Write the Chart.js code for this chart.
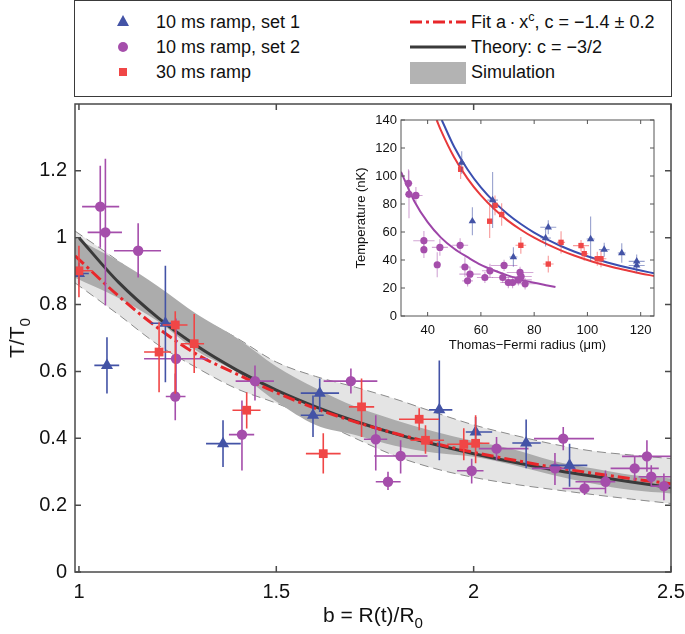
<!DOCTYPE html>
<html>
<head>
<meta charset="utf-8">
<script src="https://cdn.jsdelivr.net/npm/chart.js@4.4.1/dist/chart.umd.min.js"></script>
<style>
  html, body { margin:0; padding:0; background:#fff; }
  body { width:685px; height:634px; overflow:hidden; position:relative;
         font-family:"Liberation Sans", Arial, Helvetica, sans-serif; color:#111; }
  canvas { position:absolute; }
  #main { left:0; top:0; }
  #inset { left:340px; top:106px; }
  .legbox { position:absolute; left:74px; top:0px; width:598px; height:97px;
            border:1.5px solid #3a3a3a; box-sizing:border-box; background:#fff; }
  .lt { position:absolute; font-size:18px; line-height:22px; white-space:nowrap; }
  .lt sup { font-size:0.7em; vertical-align:0.55em; line-height:0; }
  .sw { position:absolute; }
  .title { position:absolute; font-size:21px; line-height:24px; white-space:nowrap; }
  .title sub { font-size:0.72em; vertical-align:-0.4em; line-height:0; }
</style>
</head>
<body>
<canvas id="main" width="685" height="634"></canvas>
<canvas id="inset" width="325" height="250"></canvas>

<div class="legbox"></div>
<svg class="sw" style="left:116px;top:14px" width="14" height="14"><polygon points="7,1 13,12 1,12" fill="#4353a6"/></svg>
<svg class="sw" style="left:117px;top:41px" width="12" height="12"><circle cx="6" cy="6" r="5" fill="#a54eab"/></svg>
<svg class="sw" style="left:118px;top:67px" width="10" height="10"><rect x="1" y="1" width="8" height="8" fill="#f04646"/></svg>
<div class="lt" style="left:156px;top:11px">10 ms ramp, set 1</div>
<div class="lt" style="left:156px;top:36px">10 ms ramp, set 2</div>
<div class="lt" style="left:156px;top:61px">30 ms ramp</div>
<svg class="sw" style="left:410px;top:18px" width="56" height="8"><line x1="0" y1="4" x2="56" y2="4" stroke="#e8262a" stroke-width="3" stroke-dasharray="12,4,3,4"/></svg>
<svg class="sw" style="left:410px;top:43px" width="56" height="8"><line x1="0" y1="4" x2="56" y2="4" stroke="#3a3a3a" stroke-width="3"/></svg>
<svg class="sw" style="left:410px;top:62px" width="56" height="22"><rect x="0" y="0" width="56" height="22" fill="#b3b3b3"/></svg>
<div class="lt" style="left:471px;top:11px">Fit a&#8201;·&#8201;x<sup>c</sup>, c = −1.4 ± 0.2</div>
<div class="lt" style="left:471px;top:36px">Theory: c = −3/2</div>
<div class="lt" style="left:471px;top:61px">Simulation</div>

<div class="title" style="left:75px;width:596px;top:603px;text-align:center">b = R(t)/R<sub>0</sub></div>
<div class="title" style="left:17px;top:338px;transform:translate(-50%,-50%) rotate(-90deg)">T/T<sub>0</sub></div>

<script>
const FONT = '"Liberation Sans", Arial, Helvetica, sans-serif';

// ---------------- main chart data ----------------
const X_TICKS = [1, 1.5, 2, 2.5];
const X_TICK_LABELS = ['1', '1.5', '2', '2.5'];
const Y_TICKS = [0, 0.2, 0.4, 0.6, 0.8, 1, 1.2];
const Y_TICK_LABELS = ['0', '0.2', '0.4', '0.6', '0.8', '1', '1.2'];

// 10 ms ramp, set 1 (blue triangles)
const S1_X    = [1.0, 1.071, 1.219, 1.365, 1.593, 1.61, 1.913, 2.005, 2.133, 2.243];
const S1_Y    = [0.893, 0.618, 0.744, 0.384, 0.469, 0.535, 0.485, 0.419, 0.386, 0.319];
const S1_XLO  = [0.985, 1.039, 1.182, 1.322, 1.562, 1.562, 1.887, 1.98, 2.098, 2.195];
const S1_XHI  = [1.025, 1.102, 1.254, 1.41, 1.62, 1.659, 1.946, 2.047, 2.17, 2.288];
const S1_YLO  = [0.86, 0.534, 0.568, 0.314, 0.404, 0.479, 0.334, 0.374, 0.31, 0.255];
const S1_YHI  = [0.925, 0.702, 0.916, 0.454, 0.528, 0.579, 0.633, 0.464, 0.456, 0.384];

// 10 ms ramp, set 2 (purple circles)
const S2_X    = [1.054, 1.067, 1.150, 1.246, 1.244, 1.446, 1.413, 1.689, 1.752, 1.815, 1.783, 1.995, 2.058, 2.227, 2.206, 2.281, 2.334, 2.408, 2.439, 2.45, 2.482];
const S2_Y    = [1.093, 1.016, 0.961, 0.638, 0.525, 0.571, 0.411, 0.571, 0.397, 0.347, 0.270, 0.303, 0.369, 0.399, 0.31, 0.25, 0.27, 0.31, 0.346, 0.285, 0.257];
const S2_XLO  = [1.008, 1.022, 1.089, 1.165, 1.22, 1.397, 1.38, 1.62, 1.722, 1.748, 1.752, 1.958, 2.013, 2.153, 2.148, 2.225, 2.258, 2.347, 2.376, 2.418, 2.45];
const S2_XHI  = [1.102, 1.109, 1.208, 1.326, 1.27, 1.494, 1.444, 1.756, 1.781, 1.883, 1.815, 2.025, 2.139, 2.305, 2.258, 2.334, 2.359, 2.469, 2.52, 2.52, 2.52];
const S2_YLO  = [0.97, 0.797, 0.881, 0.52, 0.454, 0.513, 0.304, 0.534, 0.304, 0.295, 0.245, 0.265, 0.334, 0.364, 0.26, 0.23, 0.235, 0.275, 0.3, 0.255, 0.215];
const S2_YHI  = [1.215, 1.236, 1.043, 0.758, 0.594, 0.618, 0.513, 0.609, 0.469, 0.394, 0.30, 0.339, 0.404, 0.434, 0.356, 0.27, 0.304, 0.344, 0.394, 0.319, 0.295];

// 30 ms ramp (red squares)
const S3_X    = [1.0, 1.244, 1.292, 1.203, 1.425, 1.619, 1.716, 1.862, 1.878, 1.975, 2.005];
const S3_Y    = [0.901, 0.739, 0.683, 0.658, 0.484, 0.354, 0.494, 0.457, 0.394, 0.382, 0.385];
const S3_XLO  = [0.985, 1.212, 1.258, 1.165, 1.389, 1.575, 1.684, 1.811, 1.84, 1.933, 1.98];
const S3_XHI  = [1.035, 1.275, 1.317, 1.233, 1.46, 1.663, 1.748, 1.912, 1.925, 2.009, 2.04];
const S3_YLO  = [0.822, 0.533, 0.595, 0.538, 0.429, 0.295, 0.404, 0.424, 0.354, 0.334, 0.325];
const S3_YHI  = [0.976, 0.78, 0.772, 0.747, 0.538, 0.415, 0.579, 0.49, 0.439, 0.43, 0.469];

// curves
const CURVE_X  = [1.0, 1.1, 1.2, 1.3, 1.4, 1.5, 1.6, 1.7, 1.8, 1.9, 2.0, 2.1, 2.2, 2.3, 2.4, 2.5];
const THEORY_Y = [1.0, 0.867, 0.761, 0.675, 0.604, 0.544, 0.494, 0.451, 0.414, 0.382, 0.354, 0.329, 0.306, 0.287, 0.269, 0.253];
const FIT_X    = [0.99, 1.1, 1.2, 1.3, 1.4, 1.5, 1.6, 1.7, 1.8, 1.9, 2.0, 2.1, 2.2, 2.3, 2.4, 2.5];
const FIT_Y    = [0.946, 0.826, 0.73, 0.65, 0.592, 0.537, 0.489, 0.449, 0.415, 0.385, 0.358, 0.335, 0.314, 0.296, 0.279, 0.264];

// simulation bands
const BAND_X   = [0.99, 1.1, 1.2, 1.3, 1.4, 1.5, 1.6, 1.7, 1.8, 1.9, 2.0, 2.1, 2.2, 2.3, 2.4, 2.5];
const DARK_HI  = [1.0, 0.93, 0.855, 0.77, 0.70, 0.615, 0.55, 0.495, 0.455, 0.42, 0.392, 0.367, 0.333, 0.31, 0.29, 0.28];
const DARK_LO  = [0.88, 0.82, 0.75, 0.66, 0.598, 0.51, 0.44, 0.41, 0.378, 0.357, 0.345, 0.32, 0.29, 0.265, 0.245, 0.235];
const LIGHT_HI = [1.02, 0.93, 0.84, 0.765, 0.70, 0.628, 0.585, 0.553, 0.518, 0.478, 0.44, 0.41, 0.383, 0.362, 0.35, 0.339];
const LIGHT_LO = [0.865, 0.77, 0.68, 0.61, 0.548, 0.505, 0.455, 0.40, 0.348, 0.31, 0.283, 0.263, 0.247, 0.232, 0.218, 0.205];

// ---------------- inset data ----------------
const IN_X_TICKS = [40, 60, 80, 100, 120];
const IN_Y_TICKS = [0, 20, 40, 60, 80, 100, 120, 140];

const IN_S1_X   = [52.8, 56.8, 64.4, 72.2, 85.3, 84.3, 101.2, 106.3, 112.9, 118.5, 118.5];
const IN_S1_Y   = [109.6, 67.7, 82.8, 42.1, 63.4, 55.7, 55.0, 47.4, 45.0, 39.0, 36.1];
const IN_S1_XE  = [1, 1, 2, 1.5, 3, 2, 1.5, 2, 1.5, 3, 3];
const IN_S1_YE  = [8, 10, 20, 7, 5, 6, 16, 5, 7, 5, 5];

const IN_S2_X   = [32.8, 33.0, 35.6, 38.6, 38.6, 43.6, 44.6, 52.2, 54.0, 55.9, 55.0, 61.5, 63.4, 68.7, 68.2, 70.3, 71.9, 74.7, 75.1, 74.1, 76.6];
const IN_S2_Y   = [94.8, 86.9, 86.1, 53.8, 47.4, 36.6, 49.0, 50.5, 35.0, 29.9, 25.1, 27.5, 32.3, 36.1, 27.5, 23.9, 23.9, 31.1, 28.2, 25.8, 23.0];
const IN_S2_XE  = [1.5, 1.5, 2.5, 4, 1, 1, 3, 3, 2, 4, 2, 3, 3, 5, 4, 3, 3, 5, 4, 5, 4];
const IN_S2_YE  = [10, 17, 6, 7, 6, 9, 6, 5, 7, 5, 4, 4, 5, 4, 4, 4, 4, 4, 4, 4, 4];

const IN_S3_X   = [52.4, 63.3, 65.3, 67.8, 75.0, 85.3, 90.1, 97.6, 98.8, 103.7, 105.1];
const IN_S3_Y   = [104.8, 67.7, 79.0, 72.5, 50.5, 37.1, 52.6, 50.3, 44.5, 40.9, 40.9];
const IN_S3_XE  = [1, 1, 1.5, 1, 2, 2, 1.5, 3, 1.5, 2, 2];
const IN_S3_YE  = [7, 12, 7, 8, 6, 6, 8, 4, 5, 5, 6];

const IN_BLUE_X = [45.3, 50, 55, 60, 65, 70, 75, 80, 85, 90, 95, 100, 105, 110, 115, 120, 125];
const IN_BLUE_Y = [140, 120.7, 104.6, 91.8, 81.5, 72.9, 65.7, 59.6, 54.5, 50, 46.1, 42.7, 39.7, 37, 34.6, 32.5, 30.5];
const IN_RED_X  = [43.4, 45, 50, 55, 60, 65, 70, 75, 80, 85, 90, 95, 100, 105, 110, 115, 120, 125];
const IN_RED_Y  = [140, 132.6, 113.2, 98.1, 86.1, 76.4, 68.3, 61.6, 55.9, 51.1, 46.9, 43.2, 40, 37.2, 34.7, 32.5, 30.4, 28.6];
const IN_PUR_X  = [30, 35, 40, 45, 50, 55, 60, 65, 70, 75, 80, 85, 88];
const IN_PUR_Y  = [103, 82, 67, 56, 48, 42, 36.5, 32.5, 29, 26, 23.7, 21.8, 20.7];

// ---------------- colours ----------------
const BLUE = '#4353a6', PURPLE = '#a54eab', RED = '#f04646';

// ---------------- helpers ----------------
const pts = (xs, ys) => xs.map((x, i) => ({ x, y: ys[i] }));
const sub = (a, e) => a.map((v, i) => v - e[i]);
const add = (a, e) => a.map((v, i) => v + e[i]);

const errorBars = {
  id: 'errorBars',
  beforeDatasetDraw(chart, args) {
    const ds = chart.data.datasets[args.index];
    if (!ds.err) return;
    const { ctx, chartArea: a, scales: { x, y } } = chart;
    const e = ds.err;
    ctx.save();
    ctx.beginPath();
    ctx.rect(a.left, a.top, a.right - a.left, a.bottom - a.top);
    ctx.clip();
    ctx.strokeStyle = e.color;
    ctx.lineWidth = e.width;
    ds.data.forEach((p, i) => {
      const px = x.getPixelForValue(p.x), py = y.getPixelForValue(p.y);
      ctx.beginPath();
      ctx.moveTo(x.getPixelForValue(e.xLo[i]), py);
      ctx.lineTo(x.getPixelForValue(e.xHi[i]), py);
      ctx.moveTo(px, y.getPixelForValue(e.yLo[i]));
      ctx.lineTo(px, y.getPixelForValue(e.yHi[i]));
      ctx.stroke();
    });
    ctx.restore();
  }
};

const frame = {
  id: 'frame',
  afterDatasetsDraw(chart, args, o) {
    const { ctx, chartArea: a, scales: { x, y } } = chart;
    ctx.save();
    ctx.strokeStyle = o.color;
    ctx.lineWidth = o.width;
    ctx.strokeRect(a.left, a.top, a.right - a.left, a.bottom - a.top);
    ctx.beginPath();
    o.xTicks.forEach(v => {
      const p = x.getPixelForValue(v);
      ctx.moveTo(p, a.bottom); ctx.lineTo(p, a.bottom - o.len);
      ctx.moveTo(p, a.top); ctx.lineTo(p, a.top + o.len);
    });
    o.yTicks.forEach(v => {
      const p = y.getPixelForValue(v);
      ctx.moveTo(a.left, p); ctx.lineTo(a.left + o.len, p);
      ctx.moveTo(a.right, p); ctx.lineTo(a.right - o.len, p);
    });
    ctx.stroke();
    ctx.restore();
  }
};

const curve = (data, color, width, order, extra) => Object.assign({
  data, borderColor: color, borderWidth: width, pointRadius: 0, fill: false,
  cubicInterpolationMode: 'monotone', order
}, extra || {});

const points = (data, style, r, color, order, err) => ({
  data, showLine: false, pointStyle: style, pointRadius: r,
  pointBackgroundColor: color, pointBorderColor: color, pointBorderWidth: 0,
  borderColor: color, backgroundColor: color, order, err
});

// ---------------- main chart ----------------
new Chart(document.getElementById('main'), {
  type: 'line',
  data: {
    datasets: [
      points(pts(S3_X, S3_Y), 'rect', 6.2, RED, 1,
        { xLo: S3_XLO, xHi: S3_XHI, yLo: S3_YLO, yHi: S3_YHI, color: RED, width: 1.6 }),
      points(pts(S1_X, S1_Y), 'triangle', 7, BLUE, 2,
        { xLo: S1_XLO, xHi: S1_XHI, yLo: S1_YLO, yHi: S1_YHI, color: BLUE, width: 1.6 }),
      points(pts(S2_X, S2_Y), 'circle', 5.2, PURPLE, 3,
        { xLo: S2_XLO, xHi: S2_XHI, yLo: S2_YLO, yHi: S2_YHI, color: PURPLE, width: 1.6 }),
      curve(pts(FIT_X, FIT_Y), '#e8262a', 3, 4, { borderDash: [12, 4, 3, 4] }),
      curve(pts(CURVE_X, THEORY_Y), '#3a3a3a', 3, 5),
      curve(pts(BAND_X, DARK_HI), 'rgba(0,0,0,0)', 0, 6, { fill: '+1', backgroundColor: '#acacac' }),
      curve(pts(BAND_X, DARK_LO), 'rgba(0,0,0,0)', 0, 7),
      curve(pts(BAND_X, LIGHT_HI), '#8a8a8a', 1, 9, { fill: '+1', backgroundColor: '#e4e4e4', borderDash: [9, 5] }),
      curve(pts(BAND_X, LIGHT_LO), '#8a8a8a', 1, 8, { borderDash: [9, 5] })
    ]
  },
  options: {
    responsive: false, animation: false, events: [],
    layout: { padding: { left: 0, top: 104, right: 0, bottom: 0 } },
    plugins: {
      legend: { display: false }, tooltip: { enabled: false },
      frame: { color: '#4a4a4a', width: 1.5, len: 6, xTicks: X_TICKS, yTicks: Y_TICKS }
    },
    scales: {
      x: {
        type: 'linear', min: 0.99, max: 2.5,
        grid: { display: false, drawTicks: false }, border: { display: false },
        afterBuildTicks: s => { s.ticks = X_TICKS.map(v => ({ value: v })); },
        afterFit: s => { s.height = 62; s.paddingRight = 14; },
        ticks: { font: { size: 20, family: FONT }, color: '#111', padding: 8, maxRotation: 0, autoSkip: false,
                 callback: (v, i) => X_TICK_LABELS[i] }
      },
      y: {
        type: 'linear', min: 0, max: 1.4,
        grid: { display: false, drawTicks: false }, border: { display: false },
        afterBuildTicks: s => { s.ticks = Y_TICKS.map(v => ({ value: v })); },
        afterFit: s => { s.width = 75; },
        ticks: { font: { size: 20, family: FONT }, color: '#111', padding: 8, autoSkip: false,
                 callback: (v, i) => Y_TICK_LABELS[i] }
      }
    }
  },
  plugins: [errorBars, frame]
});

// ---------------- inset chart ----------------
const inErr = (xs, ys, xe, ye, color) => ({
  xLo: sub(xs, xe), xHi: add(xs, xe), yLo: sub(ys, ye), yHi: add(ys, ye), color, width: 1.1
});

new Chart(document.getElementById('inset'), {
  type: 'line',
  data: {
    datasets: [
      points(pts(IN_S1_X, IN_S1_Y), 'triangle', 4.3, BLUE, 1,
        inErr(IN_S1_X, IN_S1_Y, IN_S1_XE, IN_S1_YE, 'rgba(67,83,166,0.55)')),
      points(pts(IN_S3_X, IN_S3_Y), 'rect', 3.8, RED, 2,
        inErr(IN_S3_X, IN_S3_Y, IN_S3_XE, IN_S3_YE, 'rgba(240,70,70,0.55)')),
      points(pts(IN_S2_X, IN_S2_Y), 'circle', 3.6, PURPLE, 3,
        inErr(IN_S2_X, IN_S2_Y, IN_S2_XE, IN_S2_YE, 'rgba(165,78,171,0.5)')),
      curve(pts(IN_BLUE_X, IN_BLUE_Y), '#3b4fb0', 2, 4),
      curve(pts(IN_RED_X, IN_RED_Y), '#e8393b', 2, 5),
      curve(pts(IN_PUR_X, IN_PUR_Y), '#9d45a8', 2, 6)
    ]
  },
  options: {
    responsive: false, animation: false, events: [],
    layout: { padding: { left: 0, top: 14, right: 11, bottom: 0 } },
    plugins: {
      legend: { display: false }, tooltip: { enabled: false },
      frame: { color: '#555', width: 1, len: 4, xTicks: IN_X_TICKS, yTicks: IN_Y_TICKS }
    },
    scales: {
      x: {
        type: 'linear', min: 30, max: 125,
        grid: { display: false, drawTicks: false }, border: { display: false },
        afterBuildTicks: s => { s.ticks = IN_X_TICKS.map(v => ({ value: v })); },
        afterFit: s => { s.height = 40; },
        ticks: { font: { size: 13, family: FONT }, color: '#111', padding: 7, maxRotation: 0, autoSkip: false },
        title: { display: true, text: 'Thomas−Fermi radius (μm)', font: { size: 13, family: FONT }, color: '#111',
                 padding: { top: 0, bottom: 3 } }
      },
      y: {
        type: 'linear', min: 0, max: 140,
        grid: { display: false, drawTicks: false }, border: { display: false },
        afterBuildTicks: s => { s.ticks = IN_Y_TICKS.map(v => ({ value: v })); },
        afterFit: s => { s.width = 61; },
        ticks: { font: { size: 13, family: FONT }, color: '#111', padding: 4, autoSkip: false },
        title: { display: true, text: 'Temperature (nK)', font: { size: 13, family: FONT }, color: '#111',
                 padding: { top: 14, bottom: 0 } }
      }
    }
  },
  plugins: [errorBars, frame]
});
</script>
</body>
</html>
